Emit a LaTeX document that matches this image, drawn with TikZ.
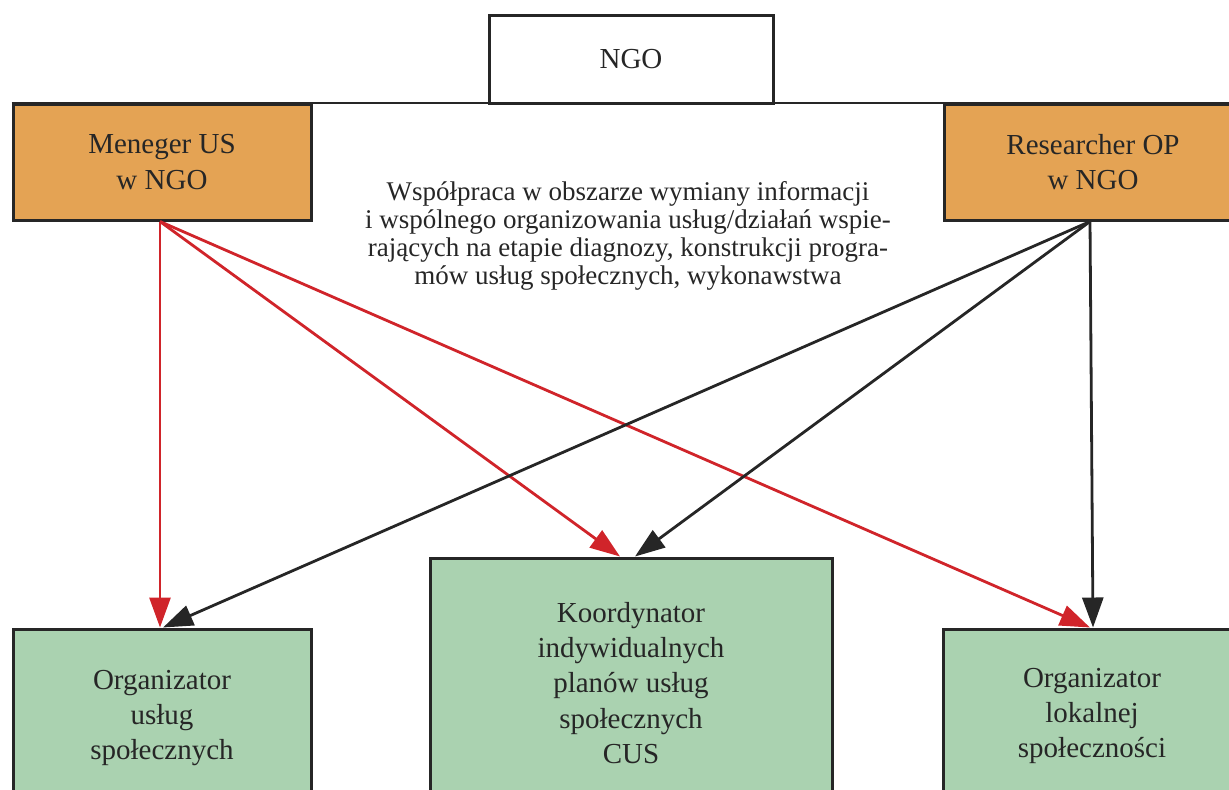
\documentclass[tikz,border=0pt]{standalone}
\usepackage{fontspec}
\setmainfont{Liberation Serif}
\usepackage{tikz}
\usetikzlibrary{shapes,arrows.meta}
\definecolor{boxline}{RGB}{38,38,38}
\definecolor{mgrfill}{RGB}{228,163,84}
\definecolor{cusfill}{RGB}{170,210,176}
\definecolor{redline}{RGB}{208,36,42}
\tikzset{
  Box/.style     = {draw=boxline, line width=1.5pt, inner sep=0pt, align=center,
                    text=boxline, font=\fontsize{14.5}{17.6}\selectfont},
  MgrBox/.style  = {Box, fill=mgrfill, minimum width=149pt, minimum height=58pt},
  CusBox/.style  = {Box, fill=cusfill, minimum width=149pt},
  EdgeRed/.style = {draw=redline, line width=1.4pt, -{Triangle[length=15pt,width=10.5pt]}},
  EdgeBlk/.style = {draw=boxline, line width=1.4pt, -{Triangle[length=15pt,width=10.5pt]}}
}

\begin{document}
\begin{tikzpicture}[x=0.5pt,y=-0.5pt]
  \clip (0,0) rectangle (1229,789);
  \node[Box, fill=white, minimum width=142pt, minimum height=44pt] (NGO) at (631,59) {NGO};
  \node[MgrBox] (MUS) at (162,162) {Meneger US\\w NGO};
  \node[MgrBox] (ROP) at (1093,162) {Researcher OP\\w NGO};
  \node[align=center, text=boxline, font=\fontsize{13.5}{14}\selectfont] (WSP) at (628,236)
    {Współpraca w obszarze wymiany informacji\\
     i wspólnego organizowania usług/działań wspie-\\
     rających na etapie diagnozy, konstrukcji progra-\\
     mów usług społecznych, wykonawstwa};
  \node[CusBox, minimum height=89pt] (OUS) at (162,718) {Organizator\\usług\\społecznych};
  \node[CusBox, minimum width=201pt, minimum height=125pt] (KIP) at (631,683)
    {Koordynator\\indywidualnych\\planów usług\\społecznych\\CUS};
  \node[CusBox, minimum height=87pt] (OLS) at (1092,716) {Organizator\\lokalnej\\społeczności};
  \draw[draw=boxline, line width=1pt] (MUS.north west) -- (ROP.north east);
  \draw[EdgeRed] ([xshift=-1pt]MUS.south) -- ([xshift=-1pt]OUS.north);
  \draw[EdgeRed] ([xshift=-1pt]MUS.south) -- ([xshift=-5.5pt]KIP.north);
  \draw[EdgeRed] ([xshift=-1pt]MUS.south) -- ([xshift=-1pt]OLS.north);
  \draw[EdgeBlk] ([xshift=-1.5pt]ROP.south) -- ([xshift=0.5pt]OUS.north);
  \draw[EdgeBlk] ([xshift=-1.5pt]ROP.south) -- ([xshift=2pt]KIP.north);
  \draw[EdgeBlk] ([xshift=-1.5pt]ROP.south) -- ([xshift=0.5pt]OLS.north);
\end{tikzpicture}
\end{document}
